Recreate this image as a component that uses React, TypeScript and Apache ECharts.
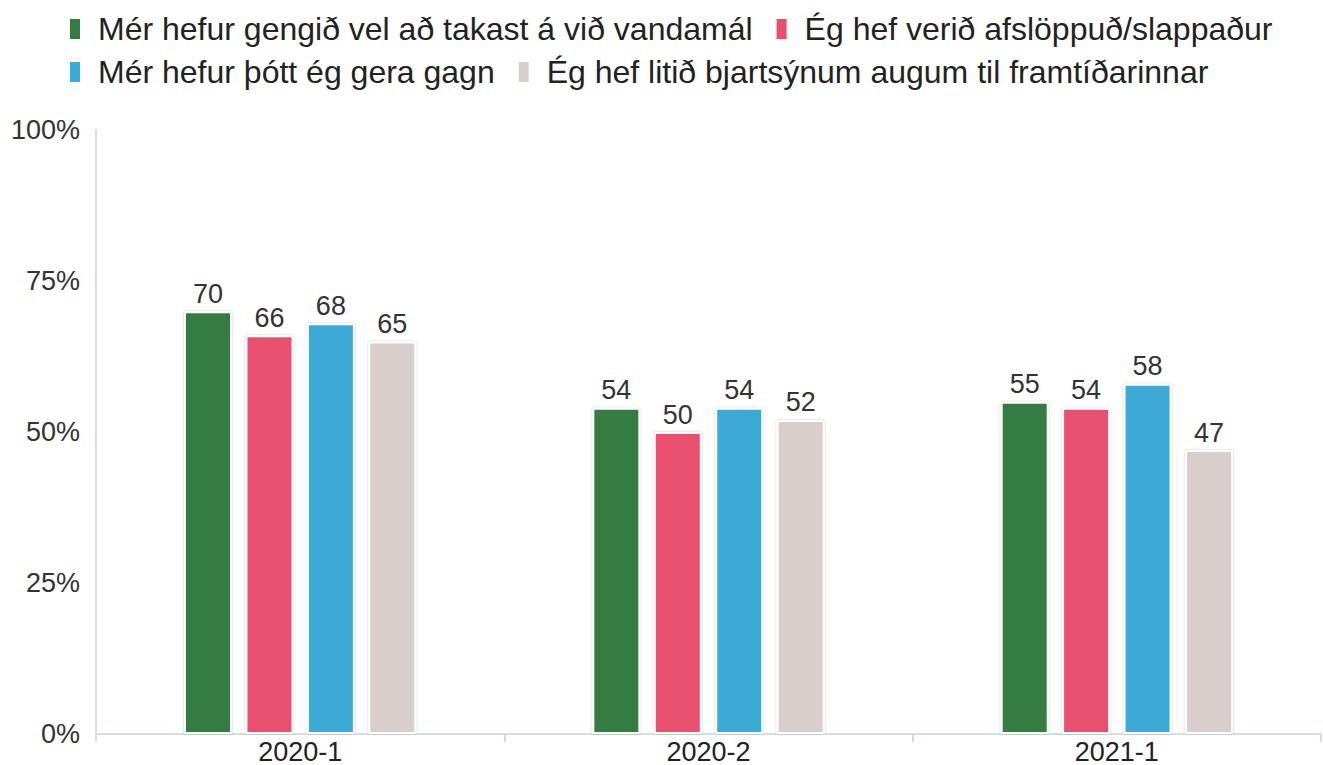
import React, { useEffect, useRef } from "react";
import * as echarts from "echarts";

const categories = ["2020-1", "2020-2", "2021-1"];
const seriesNames = [
  "Mér hefur gengið vel að takast á við vandamál",
  "Ég hef verið afslöppuð/slappaður",
  "Mér hefur þótt ég gera gagn",
  "Ég hef litið bjartsýnum augum til framtíðarinnar",
];
const vandamal = [70, 54, 55];
const afslappad = [66, 50, 54];
const gagn = [68, 54, 58];
const bjartsyni = [65, 52, 47];
const colors = ["#367c42", "#e9506e", "#3aabd6", "#d8cfcc"];
const yTicks = [0, 25, 50, 75, 100];

export default function App() {
  const ref = useRef<HTMLDivElement>(null);
  useEffect(() => {
    document.body.style.margin = "0";
    const chart = echarts.init(ref.current!, undefined, { renderer: "svg" });
    const values = [vandamal, afslappad, gagn, bjartsyni];
    const font = "'Liberation Sans', Arial, Helvetica, sans-serif";
    const legendBase = {
      left: 68,
      orient: "horizontal" as const,
      icon: "rect",
      itemWidth: 12,
      itemHeight: 22,
      itemGap: 22,
      padding: 0,
      textStyle: { fontSize: 32, color: "#222", fontFamily: font, padding: [0, 0, 0, 12] },
      selectedMode: false,
    };
    chart.setOption({
      animation: false,
      color: colors,
      legend: [
        { ...legendBase, top: 13, data: [seriesNames[0], seriesNames[1]] },
        { ...legendBase, top: 56, data: [seriesNames[2], seriesNames[3]] },
      ],
      grid: { left: 96, right: 2, top: 130, bottom: 30, containLabel: false },
      xAxis: {
        type: "category",
        data: categories,
        axisLine: { show: true, lineStyle: { color: "#d5dde8", width: 2 } },
        axisTick: { show: true, length: 8, lineStyle: { color: "#d5dde8", width: 2 } },
        axisLabel: { fontSize: 27, color: "#222", fontFamily: font, margin: 4 },
      },
      yAxis: {
        type: "value",
        min: 0,
        max: 100,
        interval: 25,
        axisLine: { show: true, lineStyle: { color: "#d5dde8", width: 2 } },
        axisTick: { show: false },
        splitLine: { show: false },
        axisLabel: {
          fontSize: 27,
          color: "#333",
          fontFamily: font,
          margin: 16,
          formatter: (v: number) => (yTicks.includes(v) ? v + "%" : ""),
        },
      },
      series: values.map((d, i) => ({
        name: seriesNames[i],
        type: "bar",
        data: d,
        barWidth: 48,
        barGap: "28%",
        itemStyle: {
          color: colors[i],
          borderColor: "#fff",
          borderWidth: 2,
          shadowBlur: 2,
          shadowColor: "rgba(0,0,0,0.25)",
        },
        label: {
          show: true,
          position: "top",
          distance: 4,
          fontSize: 27,
          color: "#333",
          fontFamily: font,
        },
      })),
    });
    return () => chart.dispose();
  }, []);
  return <div ref={ref} style={{ width: 1323, height: 765 }} />;
}
